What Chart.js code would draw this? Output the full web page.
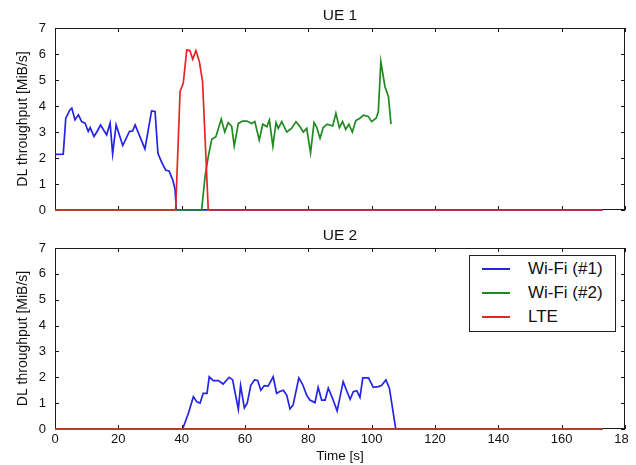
<!DOCTYPE html>
<html>
<head>
<meta charset="utf-8">
<script src="https://cdn.jsdelivr.net/npm/chart.js@4/dist/chart.umd.min.js"></script>
<style>
  html, body { margin: 0; padding: 0; background: #fff; }
  body { width: 636px; height: 465px; position: relative; overflow: hidden; font-family: 'Liberation Sans', Arial, sans-serif; }
  #c1 { position: absolute; left: 0; top: 0; }
  #c2 { position: absolute; left: 0; top: 225px; }
  #legend { position: absolute; left: 469px; top: 255px; width: 145px; height: 75px; border: 1px solid #222; background: #fff; }
  .row { position: absolute; left: 0; height: 24px; width: 145px; }
  .sample { position: absolute; left: 12px; top: 11px; width: 28px; height: 2px; }
  .lab { position: absolute; left: 58px; top: 0; line-height: 24px; font-size: 17px; color: #111; white-space: nowrap; }
</style>
</head>
<body>
<canvas id="c1" width="628" height="225"></canvas>
<canvas id="c2" width="628" height="240"></canvas>
<div id="legend"></div>
<script>
// ---- tick labels ----
const xTicks = [0, 20, 40, 60, 80, 100, 120, 140, 160, 180];
const yTicks = [0, 1, 2, 3, 4, 5, 6, 7];
const panelTitles = ['UE 1', 'UE 2'];
const seriesLabels = ['Wi-Fi (#1)', 'Wi-Fi (#2)', 'LTE'];
const seriesColors = ['#2424e6', '#1f8a1f', '#e62626'];

// ---- UE 1 ----
const ue1Wifi1Time = [0, 2.6, 3.4, 4.7, 5.3, 6.3, 7.4, 8.4, 9.5, 10.5, 11.1, 12.3, 13.2, 14.4, 16.3, 17.4, 18.2, 19.3, 21.4, 23.5, 24.5, 25.3, 28.4, 30.5, 31.6, 32.5, 33.8, 35.0, 36.0, 37.2, 37.9, 38.3, 173];
const ue1Wifi1Rate = [2.14, 2.15, 3.53, 3.85, 3.92, 3.47, 3.66, 3.4, 3.34, 3.02, 3.17, 2.83, 3.0, 3.27, 2.89, 3.34, 2.16, 3.27, 2.48, 3.02, 3.04, 3.27, 2.35, 3.81, 3.79, 2.18, 1.8, 1.53, 1.5, 1.15, 0.8, 0, 0];

const ue1Wifi2Time = [0, 46.3, 47.4, 48.4, 49.5, 50.8, 52.5, 53.6, 54.7, 55.8, 56.6, 57.9, 59.3, 60.6, 62.1, 63.1, 64.5, 65.6, 66.9, 67.7, 68.8, 69.8, 70.5, 71.6, 73.2, 74.7, 76.1, 77.4, 78.4, 79.5, 80.7, 81.8, 82.6, 83.7, 84.7, 86.0, 87.7, 88.7, 89.8, 90.8, 91.8, 92.8, 93.9, 95.0, 96.3, 97.4, 98.9, 100.0, 101.4, 102.1, 102.9, 104.2, 105.3, 106.1];
const ue1Wifi2Rate = [0, 0, 1.3, 2.05, 2.72, 2.82, 3.5, 3.0, 3.36, 3.22, 2.46, 3.33, 3.42, 3.42, 3.33, 3.4, 2.69, 3.3, 3.2, 3.46, 2.46, 3.36, 3.14, 3.4, 3.0, 3.14, 3.4, 3.2, 3.0, 3.14, 2.2, 3.36, 3.2, 2.76, 3.17, 3.3, 3.23, 3.72, 3.17, 3.4, 3.1, 3.3, 3.0, 3.44, 3.53, 3.65, 3.6, 3.4, 3.53, 3.78, 5.7, 4.74, 4.36, 3.3];

const ue1LteTime = [0, 38.1, 39.5, 40.5, 41.6, 42.6, 43.5, 44.5, 45.6, 46.6, 48.4, 173];
const ue1LteRate = [0, 0, 4.56, 4.87, 6.15, 6.13, 5.8, 6.13, 5.7, 4.94, 0, 0];

// ---- UE 2 ----
const ue2Wifi1Time = [0, 40.3, 42.1, 43.7, 44.8, 45.8, 46.8, 48.0, 48.7, 50.0, 51.6, 53.1, 55.0, 56.1, 56.8, 57.9, 58.6, 59.8, 60.7, 61.8, 63.0, 64.0, 65.0, 66.1, 67.3, 68.9, 70.0, 71.0, 72.1, 73.2, 74.2, 75.2, 77.0, 78.2, 79.5, 80.5, 82.1, 83.1, 84.2, 85.3, 86.3, 87.6, 89.1, 91.0, 92.1, 93.2, 94.2, 95.3, 96.3, 97.2, 99.0, 100.5, 102.1, 103.1, 104.5, 105.6, 107.6, 173];
const ue2Wifi1Rate = [0, 0, 0.6, 1.25, 1.05, 1.0, 1.38, 1.38, 2.02, 1.87, 1.87, 1.74, 2.0, 1.9, 1.45, 0.76, 1.68, 0.82, 1.0, 1.68, 1.9, 1.88, 1.5, 1.68, 1.66, 2.02, 1.38, 1.45, 1.5, 1.3, 0.78, 0.93, 1.98, 1.72, 1.3, 1.12, 1.02, 1.61, 1.12, 1.12, 1.58, 1.2, 0.7, 1.83, 1.48, 1.15, 1.44, 1.48, 1.22, 1.98, 1.98, 1.61, 1.64, 1.68, 1.9, 1.58, 0, 0];
const ue2Wifi2Time = [0, 173];
const ue2Wifi2Rate = [0, 0];
const ue2LteTime = [0, 173];
const ue2LteRate = [0, 0];

const FONT = "'Liberation Sans', Arial, sans-serif";
const zip = (t, v) => t.map((x, i) => ({ x: x, y: v[i] }));

function makeDatasets(pairs) {
  return pairs.map((p, i) => ({
    label: seriesLabels[i],
    data: zip(p[0], p[1]),
    borderColor: seriesColors[i],
    backgroundColor: seriesColors[i],
    borderWidth: 1.7,
    pointRadius: 0,
    tension: 0,
    fill: false,
    clip: 6,
    order: 3 - i
  }));
}

const frameTicks = {
  id: 'frameTicks',
  beforeDatasetsDraw(chart) {
    const { ctx, chartArea: a, scales } = chart;
    const L = Math.round(a.left), R = Math.round(a.right), T = Math.round(a.top), B = Math.round(a.bottom);
    ctx.save();
    ctx.strokeStyle = '#1a1a1a';
    ctx.lineWidth = 1;
    ctx.strokeRect(L + 0.5, T + 0.5, R - L - 1, B - T - 1);
    ctx.beginPath();
    xTicks.forEach(v => {
      const px = Math.round(scales.x.getPixelForValue(v)) + 0.5;
      ctx.moveTo(px, B); ctx.lineTo(px, B - 4);
      ctx.moveTo(px, T); ctx.lineTo(px, T + 4);
    });
    yTicks.forEach(v => {
      const py = Math.round(scales.y.getPixelForValue(v)) + 0.5;
      ctx.moveTo(L, py); ctx.lineTo(L + 4, py);
      ctx.moveTo(R, py); ctx.lineTo(R - 4, py);
    });
    ctx.stroke();
    ctx.restore();
  }
};

function makeChart(canvas, title, pairs, opts) {
  return new Chart(canvas, {
    type: 'line',
    data: { datasets: makeDatasets(pairs) },
    plugins: [frameTicks],
    options: {
      responsive: false,
      animation: false,
      events: [],
      layout: { padding: { left: 0, right: 3, top: 0, bottom: 0 } },
      plugins: {
        legend: { display: false },
        tooltip: { enabled: false },
        title: {
          display: true,
          text: title,
          fullSize: false,
          color: '#111',
          font: { family: FONT, size: 15.5, weight: 'normal' },
          padding: opts.titlePad
        }
      },
      scales: {
        x: {
          type: 'linear',
          min: 0, max: 180,
          grid: { display: false, drawTicks: false },
          border: { display: false },
          afterBuildTicks: s => { s.ticks = xTicks.map(v => ({ value: v })); },
          afterFit: s => { s.height = opts.xHeight; s.paddingLeft = 0; s.paddingRight = 0; },
          ticks: {
            display: opts.showX,
            autoSkip: false,
            maxRotation: 0,
            padding: 3,
            color: '#111',
            font: { family: FONT, size: 13 },
            callback: v => String(v)
          },
          title: {
            display: opts.showX,
            text: 'Time [s]',
            color: '#111',
            font: { family: FONT, size: 13.5 },
            padding: { top: 0, bottom: 1 }
          }
        },
        y: {
          type: 'linear',
          min: 0, max: 7,
          grid: { display: false, drawTicks: false },
          border: { display: false },
          afterBuildTicks: s => { s.ticks = yTicks.map(v => ({ value: v })); },
          afterFit: s => { s.width = 55; s.paddingTop = 0; s.paddingBottom = 0; },
          ticks: {
            padding: 9,
            color: '#111',
            font: { family: FONT, size: 13 },
            callback: v => String(v)
          },
          title: {
            display: true,
            text: 'DL throughput [MiB/s]',
            color: '#111',
            font: { family: FONT, size: 14 },
            padding: { top: 14.5, bottom: 0 }
          }
        }
      }
    }
  });
}

makeChart(document.getElementById('c1'), panelTitles[0],
  [[ue1Wifi1Time, ue1Wifi1Rate], [ue1Wifi2Time, ue1Wifi2Rate], [ue1LteTime, ue1LteRate]],
  { titlePad: { top: 6.7, bottom: 2.7 }, xHeight: 15, showX: false });

makeChart(document.getElementById('c2'), panelTitles[1],
  [[ue2Wifi1Time, ue2Wifi1Rate], [ue2Wifi2Time, ue2Wifi2Rate], [ue2LteTime, ue2LteRate]],
  { titlePad: { top: 1.2, bottom: 3.2 }, xHeight: 36, showX: true });

// legend (HTML) built from the series labels/colours
const legend = document.getElementById('legend');
seriesLabels.forEach((lab, i) => {
  const row = document.createElement('div');
  row.className = 'row';
  row.style.top = (0.5 + 24 * i) + 'px';
  const s = document.createElement('div');
  s.className = 'sample';
  s.style.background = seriesColors[i];
  const t = document.createElement('span');
  t.className = 'lab';
  t.textContent = lab;
  row.appendChild(s); row.appendChild(t);
  legend.appendChild(row);
});
</script>
</body>
</html>
